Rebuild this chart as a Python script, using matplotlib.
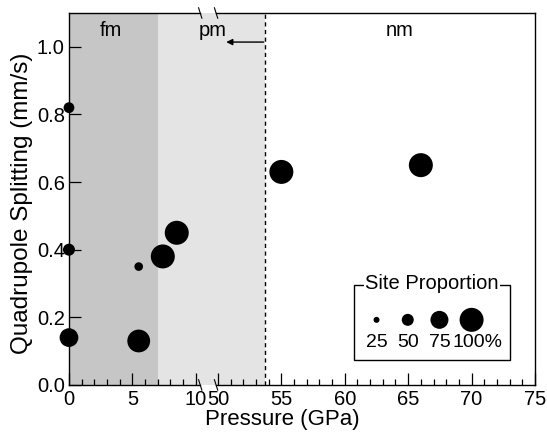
import numpy as np
import matplotlib
matplotlib.use("Agg")
import matplotlib.pyplot as plt
from matplotlib.patches import Rectangle

plt.rcParams['font.family'] = ['Liberation Sans', 'DejaVu Sans']

# Measurements: pressure (GPa), quadrupole splitting (mm/s), site proportion (%)
pressure = [0.0, 0.0, 0.0, 5.5, 5.5, 7.4, 8.5, 55.0, 66.0]
splitting = [0.82, 0.40, 0.14, 0.35, 0.13, 0.38, 0.45, 0.63, 0.65]
proportion = [45, 50, 78, 36, 95, 100, 100, 100, 100]

# Magnetic regimes
fm_limit = 7.0
pm_limit = 53.7
region_labels = ["fm", "pm", "nm"]

legend_values = [25, 50, 75, 100]
legend_labels = ["25", "50", "75", "100%"]

major_ticks = [0, 5, 10, 50, 55, 60, 65, 70, 75]
y_ticks = [0.0, 0.2, 0.4, 0.6, 0.8, 1.0]

# Broken x axis: pressures from 50 GPa upward are shifted left
BREAK_LO, BREAK_HI = 10.0, 50.0
SHIFT = 38.25
XMAX = 75.0


def tx(p):
    p = np.asarray(p, dtype=float)
    return np.where(p >= BREAK_HI, p - SHIFT, p)


def marker_area(pct):
    # marker diameter grows linearly with the proportion
    return (0.1728 * np.asarray(pct, dtype=float)) ** 2


fig = plt.figure(figsize=(5.47, 4.33), dpi=100)
ax = fig.add_axes([0.1261, 0.111, 0.8519, 0.859])

ax.set_xlim(0, float(tx(XMAX)))
ax.set_ylim(0, 1.1)

# shaded regimes
ax.axvspan(0, fm_limit, color='#c6c6c6', lw=0, zorder=0)
ax.axvspan(fm_limit, float(tx(pm_limit)), color='#e4e4e4', lw=0, zorder=0)
ax.axvline(float(tx(pm_limit)), color='black', lw=1.0, ls=(0, (3, 2.5)), zorder=1)

ax.scatter(tx(pressure), splitting, s=marker_area(proportion), color='black',
           linewidths=0, zorder=5, clip_on=False)

# ticks
ax.set_xticks(tx(major_ticks))
ax.set_xticklabels([str(t) for t in major_ticks])
minor = [p for p in list(range(1, 10)) + list(range(51, 75)) if p % 5 != 0]
ax.set_xticks(tx(minor), minor=True)
ax.set_yticks(y_ticks)
ax.set_yticklabels([f"{t:.1f}" for t in y_ticks])
ax.tick_params(axis='both', which='major', direction='in', length=8.5, width=0.9,
               labelsize=14.5, pad=3, colors='black')
ax.tick_params(axis='x', which='major', pad=4)
ax.tick_params(axis='x', which='minor', direction='in', length=4, width=0.9)
ax.tick_params(axis='y', which='minor', left=False)

ax.set_xlabel("Pressure (GPa)", fontsize=16, labelpad=0)
ax.xaxis.label.set_x(0.457)
ax.set_ylabel("Quadrupole Splitting (mm/s)", fontsize=17.5, labelpad=3)
ax.yaxis.label.set_y(0.489)

# axis break: split top/bottom spines and add slanted marks
for side in ('top', 'bottom'):
    ax.spines[side].set_visible(False)
for s in ('left', 'right'):
    ax.spines[s].set_linewidth(1.0)
xt = ax.get_xaxis_transform()
g0, g1 = 10.35, 11.6
for yy in (0, 1):
    ax.plot([0, g0], [yy, yy], color='black', lw=1.0, transform=xt, clip_on=False, zorder=6)
    ax.plot([g1, float(tx(XMAX))], [yy, yy], color='black', lw=1.0, transform=xt,
            clip_on=False, zorder=6)
    for gx in (g0, g1):
        ax.plot([gx - 0.13, gx + 0.13], [yy + 0.014, yy - 0.014], color='black', lw=0.8,
                transform=xt, clip_on=False, zorder=6)

# regime labels and arrow
ax.text(0.09, 0.952, region_labels[0], transform=ax.transAxes, ha='center', va='center', fontsize=14.5)
ax.text(0.309, 0.952, region_labels[1], transform=ax.transAxes, ha='center', va='center', fontsize=14.5)
ax.text(0.71, 0.952, region_labels[2], transform=ax.transAxes, ha='center', va='center', fontsize=14.5)
ax.annotate("", xy=(12.4, 1.014), xytext=(float(tx(pm_limit)) - 0.1, 1.014),
            arrowprops=dict(arrowstyle='-|>', color='black', lw=1.0,
                            mutation_scale=9, shrinkA=0, shrinkB=0))

# site-proportion key
ta = ax.transAxes
ax.add_patch(Rectangle((0.612, 0.067), 0.334, 0.202, transform=ta, fill=False,
                       lw=1.0, edgecolor='black', zorder=7))
ax.text(0.779, 0.272, "Site Proportion", transform=ta, ha='center', va='center',
        fontsize=14.5, zorder=8,
        bbox=dict(facecolor='white', edgecolor='none', pad=0.8))
key_x = [0.660, 0.727, 0.795, 0.864]
ax.scatter(key_x, [0.175] * 4, s=marker_area(legend_values), color='black',
           linewidths=0, transform=ta, zorder=8, clip_on=False)
label_x = [0.660, 0.727, 0.795, 0.876]
for lx, lab in zip(label_x, legend_labels):
    ax.text(lx, 0.115, lab, transform=ta, ha='center', va='center', fontsize=14, zorder=8)

fig.savefig("out.png", dpi=100)
